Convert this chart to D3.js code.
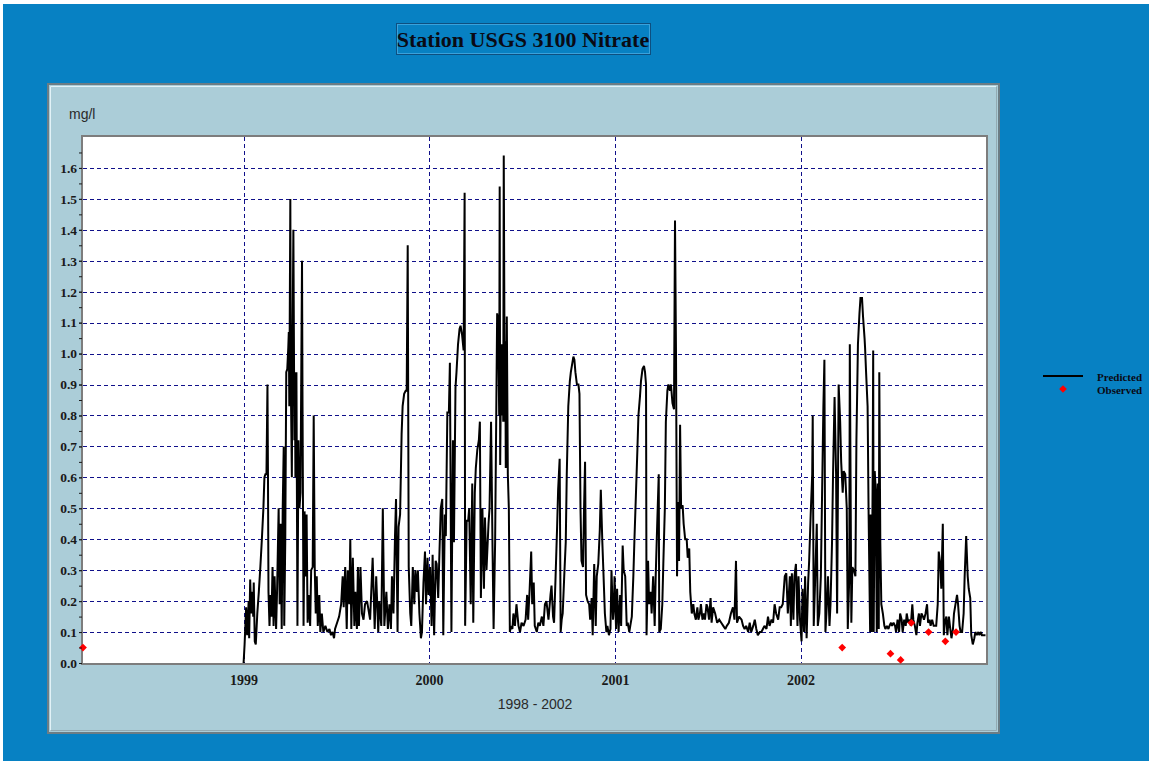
<!DOCTYPE html>
<html>
<head>
<meta charset="utf-8">
<script src="https://cdn.jsdelivr.net/npm/d3@7"></script>
<style>
  html, body { margin: 0; padding: 0; background: #ffffff; }
  svg { display: block; }
</style>
</head>
<body>
<svg id="chart" width="1151" height="763"></svg>
<script>
// ---- Data -------------------------------------------------------------
// Predicted daily nitrate (mg/l): day offset from 1 Jan 1999 and value
const predStart = "1999-01-01";
const predDay = [
  0, 2, 5, 7, 10, 11, 13, 15, 17, 19, 20, 22, 24, 27, 30, 33, 36, 39, 41, 43,
  45, 47, 48, 49, 51, 53, 55, 57, 59, 61, 64, 66, 69, 71, 73, 75, 77, 79, 80, 82,
  84, 86, 88, 89, 90, 92, 93, 95, 96, 98, 100, 101, 102, 104, 106, 108, 110, 112, 115, 116,
  118, 120, 122, 124, 126, 128, 131, 133, 136, 138, 140, 142, 144, 146, 149, 151, 154, 157, 161, 165,
  169, 172, 175, 178, 180, 184, 188, 192, 195, 197, 200, 203, 205, 208, 210, 212, 215, 218, 220, 223,
  225, 227, 230, 233, 236, 239, 243, 249, 254, 258, 261, 265, 267, 271, 274, 277, 281, 284, 287, 290,
  292, 295, 298, 300, 303, 305, 308, 311, 313, 316, 319, 321, 323, 325, 328, 330, 333, 336, 338, 341,
  343, 346, 349, 351, 354, 357, 359, 362, 364, 367, 370, 372, 375, 378, 380, 383, 385, 388, 391, 393,
  396, 398, 401, 404, 406, 409, 412, 414, 417, 419, 422, 425, 427, 430, 433, 435, 436, 439, 442, 444,
  447, 450, 452, 455, 457, 460, 463, 465, 467, 470, 473, 475, 478, 482, 484, 487, 490, 492, 495, 497,
  499, 501, 503, 504, 505, 507, 508, 510, 511, 512, 514, 515, 516, 518, 520, 522, 524, 526, 529, 531,
  534, 537, 541, 544, 547, 551, 555, 558, 560, 563, 566, 568, 571, 573, 577, 580, 583, 587, 590, 593,
  596, 600, 604, 606, 609, 611, 614, 617, 619, 622, 624, 626, 628, 631, 634, 636, 639, 642, 644, 647,
  649, 651, 653, 656, 659, 661, 663, 665, 668, 670, 672, 674, 677, 680, 682, 685, 687, 690, 693, 695,
  698, 701, 703, 706, 708, 711, 714, 716, 719, 722, 724, 727, 729, 730, 733, 735, 738, 741, 743, 746,
  748, 751, 754, 756, 759, 761, 764, 767, 769, 772, 775, 777, 780, 782, 785, 788, 790, 792, 793, 796,
  798, 801, 803, 806, 809, 811, 814, 817, 818, 821, 824, 826, 829, 831, 834, 836, 839, 841, 844, 847,
  849, 851, 853, 855, 857, 859, 861, 864, 866, 869, 872, 874, 877, 879, 882, 885, 887, 890, 893, 895,
  898, 900, 903, 906, 908, 911, 913, 916, 919, 921, 924, 928, 932, 936, 940, 944, 948, 951, 955, 959,
  963, 966, 969, 971, 975, 980, 983, 986, 989, 993, 996, 999, 1003, 1006, 1009, 1012, 1016, 1019, 1022, 1025,
  1029, 1032, 1035, 1039, 1042, 1045, 1048, 1052, 1055, 1058, 1061, 1065, 1068, 1071, 1075, 1077, 1079, 1082, 1084, 1087,
  1090, 1092, 1095, 1098, 1100, 1103, 1105, 1108, 1111, 1113, 1116, 1119, 1120, 1122, 1125, 1128, 1130, 1133, 1136, 1138,
  1141, 1143, 1145, 1147, 1150, 1153, 1155, 1158, 1160, 1163, 1166, 1168, 1171, 1174, 1176, 1179, 1181, 1184, 1187, 1189,
  1192, 1193, 1196, 1198, 1201, 1204, 1206, 1209, 1212, 1214, 1217, 1219, 1222, 1223, 1225, 1228, 1230, 1232, 1233, 1234,
  1236, 1238, 1239, 1240, 1242, 1244, 1246, 1248, 1250, 1251, 1253, 1255, 1258, 1261, 1263, 1266, 1269, 1271, 1274, 1276,
  1279, 1282, 1284, 1287, 1290, 1292, 1295, 1297, 1300, 1303, 1305, 1308, 1311, 1313, 1316, 1318, 1321, 1324, 1326, 1329,
  1331, 1334, 1337, 1339, 1342, 1345, 1347, 1350, 1352, 1355, 1358, 1360, 1363, 1366, 1368, 1371, 1373, 1376, 1378, 1380,
  1383, 1385, 1388, 1390, 1393, 1396, 1398, 1401, 1404, 1406, 1409, 1411, 1414, 1417, 1419, 1422, 1425, 1427, 1430, 1432,
  1435, 1438, 1440, 1443, 1446, 1448, 1451, 1453, 1456, 1460
];
const predValue = [
  0.00, 0.06, 0.18, 0.09, 0.20, 0.08, 0.27, 0.16, 0.23, 0.15, 0.26, 0.07, 0.06, 0.16, 0.23, 0.31, 0.40, 0.50, 0.60, 0.61,
  0.61, 0.90, 0.61, 0.23, 0.12, 0.22, 0.15, 0.31, 0.12, 0.28, 0.11, 0.24, 0.50, 0.19, 0.45, 0.11, 0.50, 0.70, 0.12, 0.39,
  0.94, 0.95, 1.02, 1.07, 0.83, 1.50, 0.90, 0.60, 0.94, 1.40, 0.72, 0.94, 0.60, 0.94, 0.12, 0.72, 0.50, 0.55, 1.30, 0.83,
  0.12, 0.49, 0.28, 0.48, 0.13, 0.22, 0.12, 0.30, 0.31, 0.80, 0.31, 0.16, 0.28, 0.12, 0.22, 0.10, 0.16, 0.10, 0.12, 0.10,
  0.11, 0.09, 0.10, 0.08, 0.11, 0.13, 0.15, 0.19, 0.28, 0.18, 0.31, 0.11, 0.30, 0.19, 0.40, 0.11, 0.34, 0.12, 0.23, 0.11,
  0.31, 0.12, 0.31, 0.16, 0.14, 0.19, 0.20, 0.14, 0.34, 0.11, 0.28, 0.10, 0.20, 0.12, 0.50, 0.12, 0.23, 0.11, 0.19, 0.11,
  0.28, 0.16, 0.41, 0.53, 0.10, 0.44, 0.48, 0.74, 0.83, 0.87, 0.88, 0.88, 1.35, 0.31, 0.16, 0.12, 0.31, 0.19, 0.30, 0.23,
  0.30, 0.16, 0.08, 0.10, 0.26, 0.36, 0.19, 0.34, 0.22, 0.31, 0.12, 0.35, 0.09, 0.33, 0.32, 0.21, 0.33, 0.50, 0.53, 0.09,
  0.48, 0.41, 0.81, 0.81, 0.97, 0.10, 0.72, 0.39, 0.89, 0.94, 1.03, 1.08, 1.09, 1.06, 1.01, 1.52, 0.12, 0.46, 0.46, 0.50,
  0.19, 0.58, 0.13, 0.55, 0.63, 0.69, 0.72, 0.78, 0.21, 0.50, 0.24, 0.47, 0.30, 0.45, 0.50, 0.78, 0.36, 0.11, 0.39, 0.76,
  1.13, 1.10, 0.80, 1.54, 0.64, 1.03, 0.80, 1.03, 0.78, 1.64, 0.78, 1.04, 0.63, 1.12, 0.61, 0.50, 0.10, 0.12, 0.11, 0.16,
  0.12, 0.19, 0.12, 0.10, 0.13, 0.12, 0.14, 0.22, 0.14, 0.24, 0.36, 0.19, 0.26, 0.12, 0.10, 0.13, 0.12, 0.15, 0.12, 0.19,
  0.20, 0.14, 0.22, 0.25, 0.15, 0.13, 0.28, 0.44, 0.56, 0.66, 0.10, 0.14, 0.16, 0.28, 0.39, 0.61, 0.83, 0.91, 0.94, 0.97,
  0.99, 0.98, 0.94, 0.90, 0.90, 0.87, 0.50, 0.33, 0.31, 0.50, 0.65, 0.22, 0.20, 0.19, 0.14, 0.21, 0.09, 0.32, 0.12, 0.28,
  0.32, 0.43, 0.56, 0.39, 0.30, 0.16, 0.10, 0.12, 0.09, 0.11, 0.30, 0.14, 0.19, 0.28, 0.11, 0.24, 0.10, 0.22, 0.12, 0.38,
  0.30, 0.28, 0.12, 0.13, 0.10, 0.12, 0.15, 0.28, 0.39, 0.54, 0.69, 0.80, 0.86, 0.91, 0.95, 0.96, 0.94, 0.90, 0.09, 0.33,
  0.19, 0.23, 0.16, 0.28, 0.12, 0.28, 0.45, 0.61, 0.10, 0.11, 0.19, 0.32, 0.50, 0.78, 0.88, 0.90, 0.88, 0.90, 0.84, 0.82,
  1.43, 0.99, 0.28, 0.52, 0.33, 0.77, 0.50, 0.51, 0.45, 0.40, 0.40, 0.34, 0.37, 0.23, 0.16, 0.19, 0.16, 0.14, 0.18, 0.14,
  0.16, 0.19, 0.14, 0.16, 0.14, 0.19, 0.18, 0.14, 0.21, 0.13, 0.18, 0.16, 0.13, 0.14, 0.13, 0.12, 0.11, 0.12, 0.13, 0.16,
  0.18, 0.14, 0.33, 0.13, 0.15, 0.14, 0.12, 0.11, 0.12, 0.10, 0.13, 0.10, 0.12, 0.14, 0.11, 0.09, 0.10, 0.10, 0.11, 0.12,
  0.11, 0.15, 0.12, 0.14, 0.13, 0.19, 0.16, 0.14, 0.18, 0.18, 0.19, 0.28, 0.29, 0.16, 0.28, 0.12, 0.29, 0.14, 0.28, 0.32,
  0.12, 0.28, 0.14, 0.07, 0.24, 0.10, 0.28, 0.08, 0.26, 0.33, 0.48, 0.61, 0.80, 0.12, 0.28, 0.45, 0.12, 0.16, 0.28, 0.50,
  0.83, 0.98, 0.10, 0.16, 0.28, 0.12, 0.19, 0.39, 0.61, 0.86, 0.61, 0.16, 0.90, 0.78, 0.65, 0.55, 0.62, 0.61, 0.50, 0.11,
  0.28, 1.03, 0.13, 0.31, 0.30, 0.28, 0.72, 1.03, 1.13, 1.18, 1.18, 1.12, 1.05, 1.02, 0.94, 0.83, 0.48, 0.22, 0.10, 0.48,
  0.10, 0.61, 1.01, 0.10, 0.62, 0.56, 0.10, 0.58, 0.11, 0.94, 0.39, 0.19, 0.16, 0.12, 0.11, 0.12, 0.11, 0.12, 0.13, 0.12,
  0.13, 0.12, 0.10, 0.14, 0.10, 0.16, 0.14, 0.10, 0.14, 0.12, 0.16, 0.13, 0.14, 0.12, 0.19, 0.14, 0.12, 0.09, 0.13, 0.16,
  0.12, 0.16, 0.15, 0.14, 0.16, 0.19, 0.13, 0.14, 0.12, 0.14, 0.12, 0.12, 0.12, 0.19, 0.36, 0.32, 0.24, 0.45, 0.09, 0.13,
  0.15, 0.09, 0.15, 0.12, 0.08, 0.11, 0.16, 0.19, 0.22, 0.19, 0.12, 0.10, 0.10, 0.16, 0.28, 0.41, 0.28, 0.24, 0.21, 0.09,
  0.06, 0.08, 0.10, 0.09, 0.10, 0.09, 0.10, 0.09, 0.09, 0.09
];

// Observed grab samples (mg/l)
const obsDate  = ["1998-02-19", "2002-03-24", "2002-06-27", "2002-07-17",
                  "2002-08-07", "2002-09-10", "2002-10-13", "2002-11-03"];
const obsValue = [0.05, 0.05, 0.03, 0.01, 0.13, 0.10, 0.07, 0.10];

// Axis labels
const yTickLabels = ["0.0", "0.1", "0.2", "0.3", "0.4", "0.5", "0.6", "0.7", "0.8",
                     "0.9", "1.0", "1.1", "1.2", "1.3", "1.4", "1.5", "1.6"];
const yearTicks = ["1999", "2000", "2001", "2002"];
const xDomain = ["1998-02-19", "2003-01-01"];
const yDomain = [0, 1.7];

// ---- Layout -----------------------------------------------------------
const parseDate = d3.timeParse("%Y-%m-%d");
const serif = "'Liberation Serif', 'Times New Roman', serif";
const sans  = "'Liberation Sans', Arial, sans-serif";

const plot = { left: 83, top: 137, right: 986, bottom: 663 };

const svg = d3.select("#chart");

// window background
svg.append("rect")
  .attr("x", 3).attr("y", 4).attr("width", 1146).attr("height", 757)
  .attr("fill", "#0781c3");

// title
const titleG = svg.append("g");
titleG.append("rect")
  .attr("x", 396.5).attr("y", 23.5).attr("width", 254).attr("height", 31)
  .attr("fill", "#0781c3").attr("stroke", "#0d4f80").attr("stroke-width", 1);
titleG.append("rect")
  .attr("x", 397.5).attr("y", 24.5).attr("width", 252).attr("height", 29)
  .attr("fill", "none").attr("stroke", "#3aa2dc").attr("stroke-width", 1);
titleG.append("text")
  .attr("x", 523).attr("y", 47)
  .attr("text-anchor", "middle")
  .attr("font-family", serif).attr("font-weight", "bold").attr("font-size", 22)
  .attr("fill", "#0a0a14")
  .text("Station USGS 3100 Nitrate");

// chart panel
svg.append("rect")
  .attr("x", 48).attr("y", 84).attr("width", 951).attr("height", 649)
  .attr("fill", "#abcdd8").attr("stroke", "#6c7d85").attr("stroke-width", 2);
svg.append("path")
  .attr("d", "M50.5,730.5 V86.5 H996.5")
  .attr("fill", "none").attr("stroke", "#e2f2f7").attr("stroke-width", 1);
svg.append("path")
  .attr("d", "M50.5,730.5 H996.5 V86.5")
  .attr("fill", "none").attr("stroke", "#93aab2").attr("stroke-width", 1);

// plot area
svg.append("rect")
  .attr("x", plot.left).attr("y", plot.top)
  .attr("width", plot.right - plot.left).attr("height", plot.bottom - plot.top)
  .attr("fill", "#ffffff");

// ---- Scales -----------------------------------------------------------
const x = d3.scaleTime()
  .domain(xDomain.map(parseDate))
  .range([plot.left, plot.right]);
const y = d3.scaleLinear()
  .domain(yDomain)
  .range([plot.bottom, plot.top]);

const yTickValues = yTickLabels.map(Number);
const yearDates = yearTicks.map(s => parseDate(s + "-01-01"));

// ---- Grid -------------------------------------------------------------
const grid = svg.append("g")
  .attr("stroke", "#10108a").attr("stroke-width", 1)
  .attr("stroke-dasharray", "4,3").attr("shape-rendering", "crispEdges");
grid.selectAll("line.h")
  .data(yTickValues.filter(v => v > 0))
  .join("line").attr("class", "h")
  .attr("x1", plot.left).attr("x2", plot.right)
  .attr("y1", d => Math.round(y(d)) + 0.5).attr("y2", d => Math.round(y(d)) + 0.5);
grid.selectAll("line.v")
  .data(yearDates)
  .join("line").attr("class", "v")
  .attr("y1", plot.top).attr("y2", plot.bottom)
  .attr("x1", d => Math.round(x(d)) + 0.5).attr("x2", d => Math.round(x(d)) + 0.5);

// ---- Series -----------------------------------------------------------
svg.append("clipPath").attr("id", "plot-clip")
  .append("rect")
  .attr("x", plot.left).attr("y", plot.top)
  .attr("width", plot.right - plot.left).attr("height", plot.bottom - plot.top);

const start = parseDate(predStart);
const predicted = predDay.map((d, i) => ({ date: d3.timeDay.offset(start, d), value: predValue[i] }));

svg.append("path")
  .datum(predicted)
  .attr("clip-path", "url(#plot-clip)")
  .attr("fill", "none").attr("stroke", "#000000").attr("stroke-width", 2)
  .attr("stroke-linejoin", "miter").attr("stroke-miterlimit", 2)
  .attr("d", d3.line().x(d => x(d.date)).y(d => y(d.value)));

// plot frame
svg.append("rect")
  .attr("x", plot.left - 1).attr("y", plot.top - 1)
  .attr("width", plot.right - plot.left + 2).attr("height", plot.bottom - plot.top + 2)
  .attr("fill", "none").attr("stroke", "#7d7d7d").attr("stroke-width", 2);

const observed = obsDate.map((d, i) => ({ date: parseDate(d), value: obsValue[i] }));
const diamond = d3.symbol().type(d3.symbolSquare).size(30);
svg.append("g").selectAll("path")
  .data(observed)
  .join("path")
  .attr("transform", d => `translate(${x(d.date)},${y(d.value)}) rotate(45)`)
  .attr("d", diamond)
  .attr("fill", "#ff0000");

// ---- Axes -------------------------------------------------------------
// minor ticks every 0.05
const minorTicks = d3.range(0, 34).map(i => i * 0.05);
const yMinor = svg.append("g")
  .attr("transform", `translate(${plot.left - 1},0)`)
  .call(d3.axisLeft(y).tickValues(minorTicks).tickSize(3).tickFormat(""));
yMinor.select(".domain").remove();
yMinor.selectAll("line").attr("stroke", "#1a1a1a");

const yAxis = svg.append("g")
  .attr("transform", `translate(${plot.left - 1},0)`)
  .call(d3.axisLeft(y).tickValues(yTickValues).tickSize(3).tickPadding(2)
    .tickFormat((d, i) => yTickLabels[i]));
yAxis.select(".domain").remove();
yAxis.selectAll("line").attr("stroke", "#1a1a1a");
yAxis.selectAll("text")
  .attr("font-family", serif).attr("font-weight", "bold").attr("font-size", 13.5)
  .attr("fill", "#1a1a1a");

const xAxis = svg.append("g")
  .attr("transform", `translate(0,${plot.bottom})`)
  .call(d3.axisBottom(x).tickValues(yearDates).tickSize(0).tickPadding(12)
    .tickFormat((d, i) => yearTicks[i]));
xAxis.select(".domain").remove();
xAxis.selectAll("text")
  .attr("font-family", serif).attr("font-weight", "bold").attr("font-size", 14)
  .attr("fill", "#1a1a1a");

// axis titles
svg.append("text")
  .attr("x", 69).attr("y", 119)
  .attr("font-family", sans).attr("font-size", 14).attr("fill", "#2a2a2a")
  .text("mg/l");
svg.append("text")
  .attr("x", 535).attr("y", 709)
  .attr("text-anchor", "middle")
  .attr("font-family", sans).attr("font-size", 14).attr("fill", "#2a2a2a")
  .text("1998 - 2002");

// ---- Legend -----------------------------------------------------------
const legend = svg.append("g");
legend.append("line")
  .attr("x1", 1043).attr("x2", 1083).attr("y1", 376).attr("y2", 376)
  .attr("stroke", "#000000").attr("stroke-width", 2);
legend.append("path")
  .attr("transform", "translate(1063,389) rotate(45)")
  .attr("d", diamond)
  .attr("fill", "#ff0000");
legend.selectAll("text")
  .data(["Predicted", "Observed"])
  .join("text")
  .attr("x", 1097).attr("y", (d, i) => 380.5 + i * 13)
  .attr("font-family", serif).attr("font-weight", "bold").attr("font-size", 11)
  .attr("fill", "#0a0a14")
  .text(d => d);
</script>
</body>
</html>
